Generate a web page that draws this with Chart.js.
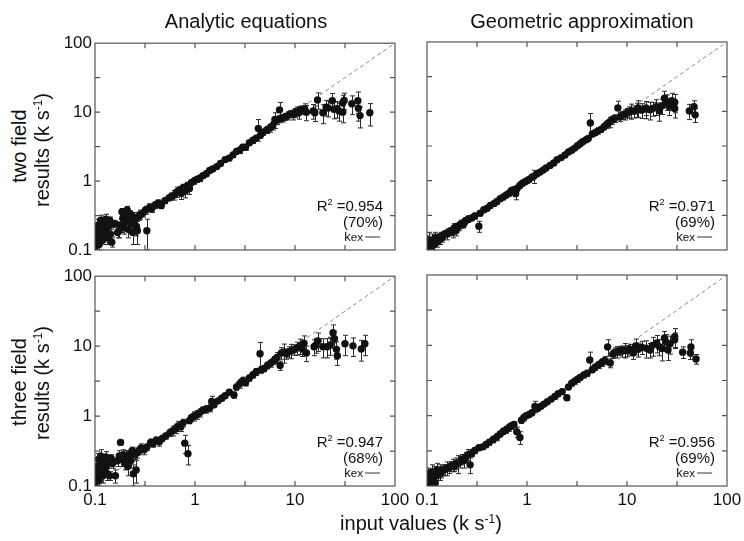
<!DOCTYPE html>
<html>
<head>
<meta charset="utf-8">
<script src="https://cdn.jsdelivr.net/npm/chart.js@4.4.1/dist/chart.umd.min.js"></script>
<style>
  body { margin: 0; background: #fff; width: 744px; height: 541px; position: relative; overflow: hidden;
         font-family: "Liberation Sans", Arial, sans-serif; color: #111; }
  .t { position: absolute; white-space: nowrap; line-height: 1; }
  .c { transform: translate(-50%, -50%); }
  .rot { transform: translate(-50%, -50%) rotate(-90deg); }
  .r { transform: translate(-100%, -50%); text-align: right; }
  sup { font-size: 0.6em; vertical-align: 0.6em; line-height: 0; }
  .kl { display: inline-block; width: 15px; border-top: 1px solid #333; vertical-align: middle; margin-left: 2px; }
</style>
</head>
<body>
<script>
// ---------- DATA ----------
const tickVals = [0.1, 1, 10, 100];
const tickLabels = ['0.1', '1', '10', '100'];
const tickMarks = [0.316, 1, 3.16, 10, 31.6];   // inward minor ticks
const diagonal = [[0.1, 0.1], [100, 100]];       // identity line

const columnTitles = ['Analytic equations', 'Geometric approximation'];
const rowTitles = ['two field', 'three field'];
const fitR2 = ['0.954', '0.971', '0.947', '0.956'];
const fitPct = ['70%', '69%', '68%', '69%'];

// [input, result, error]
const analyticTwo = [
  [0.100,0.13,0.02],[0.100,0.11,0.01],[0.102,0.17,0.03],[0.104,0.20,0.04],[0.106,0.15,0.03],[0.108,0.23,0.05],
  [0.110,0.12,0.02],[0.112,0.19,0.04],[0.114,0.27,0.05],[0.116,0.16,0.03],[0.118,0.21,0.04],[0.120,0.14,0.02],
  [0.122,0.25,0.04],[0.125,0.18,0.03],[0.128,0.28,0.05],[0.130,0.20,0.04],[0.133,0.15,0.03],[0.136,0.22,0.04],
  [0.140,0.27,0.03],[0.143,0.17,0.03],[0.147,0.13,0.02],[0.150,0.24,0.03],[0.160,0.24,0.02],[0.168,0.18,0.03],
  [0.175,0.19,0.04],[0.180,0.23,0.05],[0.186,0.36,0.04],[0.190,0.29,0.06],[0.196,0.21,0.04],[0.200,0.32,0.05],
  [0.205,0.26,0.04],[0.210,0.38,0.05],[0.215,0.20,0.05],[0.220,0.29,0.04],[0.226,0.33,0.04],[0.232,0.24,0.06],
  [0.238,0.18,0.06],[0.245,0.30,0.05],[0.252,0.28,0.04],[0.260,0.22,0.06],[0.265,0.19,0.07],[0.275,0.31,0.04],
  [0.285,0.33,0.05],[0.30,0.34,0.04],[0.33,0.19,0.09],[0.32,0.38,0.05],[0.35,0.41,0.06],[0.37,0.40,0.05],
  [0.40,0.45,0.05],[0.43,0.48,0.05],[0.46,0.44,0.04],[0.50,0.52,0.05],[0.55,0.57,0.05],[0.58,0.60,0.07],
  [0.62,0.63,0.10],[0.66,0.70,0.12],[0.70,0.74,0.08],[0.73,0.66,0.12],[0.76,0.80,0.10],[0.80,0.72,0.15],
  [0.84,0.86,0.10],[0.88,0.78,0.14],[0.92,0.95,0.08],[0.98,1.00,0.10],[1.05,1.06,0.10],[1.12,1.10,0.12],
  [1.20,1.20,0.10],[1.30,1.28,0.12],[1.40,1.42,0.10],[1.50,1.50,0.10],[1.65,1.62,0.10],[1.80,1.80,0.10],
  [2.0,2.05,0.15],[2.2,2.15,0.15],[2.4,2.4,0.2],[2.6,2.7,0.25],[2.8,2.8,0.3],[3.0,3.1,0.3],[3.2,3.1,0.3],
  [3.5,3.6,0.3],[3.8,3.9,0.4],[4.1,4.2,0.4],[4.3,5.8,2.0],[4.5,4.6,0.4],[4.8,5.1,0.5],[5.2,5.5,0.6],
  [5.6,5.9,0.8],[6.0,6.4,0.9],[6.3,7.8,2.0],[6.6,7.6,1.0],[7.0,8.0,1.0],[7.0,10.8,3.0],[7.5,8.2,1.0],
  [8.0,8.6,1.0],[8.5,8.9,1.2],[9.0,9.4,1.0],[9.5,9.2,1.5],[10.0,9.8,1.5],[10.5,10.3,1.6],[11.0,9.9,2],
  [11.5,10.8,1.5],[12.5,11.2,2],[13,10.0,2.5],[15.8,9.8,2.5],[16.8,15.0,4],[15.2,10.4,2.5],[19,9.8,3],
  [20.5,11.8,3],[21.4,11.5,3],[23.6,14.6,4],[24.5,11.0,3],[26.3,11.2,3],[27.5,10.4,3],[30,13.6,4],
  [30,10.0,3],[31,14.8,4],[37,13.2,4],[42.5,14.6,5],[43,11.4,4],[44.7,8.9,3],[56,9.8,3.5]
];

const geometricTwo = [
  [0.100,0.13,0.03],[0.101,0.10,0.01],[0.103,0.11,0.02],[0.105,0.14,0.04],[0.107,0.10,0.01],[0.109,0.12,0.02],
  [0.111,0.11,0.02],[0.113,0.14,0.03],[0.115,0.13,0.02],[0.118,0.12,0.02],[0.121,0.15,0.03],[0.124,0.14,0.02],
  [0.127,0.13,0.02],[0.130,0.15,0.02],[0.134,0.14,0.02],[0.138,0.16,0.02],[0.142,0.15,0.02],[0.150,0.17,0.02],
  [0.160,0.17,0.03],[0.166,0.18,0.02],[0.172,0.19,0.02],[0.180,0.18,0.03],[0.188,0.21,0.03],[0.195,0.19,0.03],
  [0.200,0.22,0.02],[0.210,0.22,0.03],[0.220,0.24,0.03],[0.230,0.23,0.02],[0.240,0.26,0.03],[0.250,0.27,0.02],
  [0.26,0.28,0.03],[0.28,0.29,0.02],[0.30,0.31,0.03],[0.33,0.22,0.04],[0.34,0.34,0.03],[0.37,0.38,0.03],
  [0.40,0.40,0.03],[0.43,0.44,0.04],[0.47,0.47,0.03],[0.50,0.50,0.04],[0.54,0.55,0.04],[0.58,0.58,0.05],
  [0.62,0.62,0.05],[0.66,0.66,0.06],[0.70,0.72,0.08],[0.74,0.74,0.06],[0.77,0.65,0.12],[0.80,0.78,0.07],
  [0.85,0.86,0.08],[0.90,0.92,0.08],[0.95,0.96,0.06],[1.0,1.0,0.07],[1.05,1.04,0.06],[1.12,1.12,0.08],
  [1.17,1.16,0.25],[1.25,1.25,0.08],[1.35,1.33,0.08],[1.45,1.42,0.1],[1.55,1.52,0.1],[1.7,1.66,0.1],
  [1.85,1.8,0.12],[2.0,2.0,0.12],[2.2,2.15,0.15],[2.4,2.35,0.15],[2.6,2.6,0.18],[2.8,2.75,0.18],
  [3.0,2.95,0.2],[3.2,3.2,0.2],[3.4,3.4,0.25],[3.6,3.65,0.25],[3.9,3.9,0.3],[4.1,4.05,0.3],[4.3,6.8,2.5],
  [4.5,4.7,0.4],[4.8,4.9,0.4],[5.1,5.2,0.5],[5.5,5.5,0.5],[5.9,6.0,0.6],[6.3,6.5,0.8],[6.7,7.0,1.2],
  [7.1,7.5,1.0],[7.5,7.9,1.0],[8.1,11.2,2.8],[8.5,8.3,1.2],[9.0,8.8,1.2],[9.5,9.0,1.5],[10,9.5,1.5],
  [10.5,9.8,1.8],[11,10.2,2.5],[11.8,10.0,2],[12.5,10.6,2.5],[13,11.2,3],[14,10.4,2.5],[15.5,10.8,3],
  [15.5,11.2,2.5],[17,10.5,3],[18,11.0,2.5],[19.6,11.7,3],[21,10.2,3],[22.5,12.0,3],[23.7,15.5,4],
  [25,13.8,3.5],[26.3,11.7,3],[28,14.2,4],[30,13.5,4],[30,11.0,3],[42,10.1,2.5],[46.8,11.7,2.5],[48,8.9,2]
];

const analyticThree = [
  [0.100,0.16,0.04],[0.100,0.11,0.01],[0.102,0.13,0.03],[0.104,0.19,0.05],[0.106,0.15,0.04],[0.108,0.24,0.05],
  [0.110,0.12,0.02],[0.112,0.18,0.04],[0.114,0.27,0.06],[0.116,0.16,0.03],[0.118,0.21,0.04],[0.120,0.14,0.03],
  [0.122,0.23,0.04],[0.125,0.17,0.03],[0.128,0.26,0.05],[0.130,0.19,0.04],[0.133,0.15,0.03],[0.137,0.22,0.04],
  [0.140,0.14,0.02],[0.145,0.25,0.03],[0.150,0.21,0.03],[0.160,0.14,0.03],[0.168,0.23,0.04],[0.175,0.27,0.05],
  [0.180,0.42,0.03],[0.186,0.24,0.05],[0.192,0.28,0.05],[0.198,0.21,0.04],[0.205,0.26,0.06],[0.212,0.19,0.05],
  [0.220,0.28,0.04],[0.228,0.23,0.05],[0.235,0.32,0.04],[0.242,0.15,0.05],[0.250,0.28,0.04],[0.258,0.17,0.06],
  [0.265,0.30,0.05],[0.275,0.32,0.04],[0.29,0.35,0.05],[0.31,0.33,0.05],[0.33,0.36,0.04],[0.36,0.42,0.05],
  [0.38,0.40,0.04],[0.41,0.45,0.05],[0.44,0.43,0.06],[0.47,0.48,0.05],[0.51,0.52,0.05],[0.56,0.58,0.07],
  [0.60,0.62,0.1],[0.64,0.66,0.1],[0.68,0.72,0.12],[0.72,0.70,0.1],[0.76,0.80,0.1],[0.79,0.41,0.12],
  [0.85,0.29,0.09],[0.88,0.86,0.08],[0.92,0.95,0.1],[0.98,1.0,0.15],[1.05,1.05,0.15],[1.12,1.12,0.15],
  [1.2,1.22,0.12],[1.3,1.25,0.15],[1.47,1.62,0.3],[1.4,1.3,0.15],[1.55,1.45,0.1],[1.7,1.65,0.1],
  [1.85,1.8,0.15],[2.0,1.95,0.15],[2.2,2.2,0.2],[2.45,2.0,0.2],[2.6,2.6,0.25],[2.8,2.9,0.4],[3.0,3.2,0.4],
  [3.2,3.0,0.3],[3.5,3.5,0.35],[3.8,3.9,0.4],[4.1,4.3,0.5],[4.47,7.8,3.5],[4.6,4.6,0.5],[4.9,4.8,0.5],
  [5.3,5.3,0.6],[5.7,5.7,0.7],[6.2,6.3,0.8],[6.6,6.9,1.2],[7.1,5.3,0.8],[7.3,8.0,1.5],[7.7,8.2,2.5],
  [8.2,7.8,1.3],[8.7,8.3,1.5],[9.2,8.6,2],[9.8,8.9,1.5],[10.4,9.4,2],[11.2,10.1,2.5],[11.8,9.1,2],
  [12.3,11.0,3],[13,8.0,2],[15.5,9.8,2.5],[17,11.9,3.5],[16.2,10.4,2.5],[19,9.8,3],[21,9.8,3],
  [22.5,10.4,3],[24,15.6,4.5],[24.8,12.8,3.5],[26,9.0,2.5],[26.5,7.3,2],[31.6,10.8,3.5],[38,10.1,3],
  [46,9.1,3],[50,10.8,3.5]
];

const geometricThree = [
  [0.100,0.13,0.02],[0.101,0.11,0.01],[0.103,0.15,0.03],[0.105,0.12,0.02],[0.107,0.10,0.01],[0.109,0.14,0.03],
  [0.111,0.12,0.02],[0.113,0.16,0.04],[0.115,0.13,0.02],[0.118,0.15,0.04],[0.121,0.11,0.02],[0.124,0.14,0.03],
  [0.127,0.17,0.04],[0.130,0.15,0.03],[0.134,0.16,0.04],[0.138,0.15,0.02],[0.143,0.17,0.03],[0.150,0.17,0.03],
  [0.158,0.18,0.04],[0.165,0.18,0.03],[0.172,0.19,0.03],[0.180,0.20,0.04],[0.188,0.19,0.03],[0.196,0.21,0.04],
  [0.205,0.21,0.06],[0.215,0.22,0.04],[0.225,0.24,0.04],[0.235,0.23,0.05],[0.245,0.26,0.04],[0.26,0.28,0.05],
  [0.27,0.20,0.05],[0.28,0.29,0.03],[0.30,0.32,0.03],[0.33,0.35,0.03],[0.36,0.36,0.03],[0.39,0.39,0.04],
  [0.42,0.42,0.04],[0.46,0.46,0.05],[0.50,0.50,0.06],[0.54,0.55,0.05],[0.58,0.60,0.06],[0.62,0.63,0.07],
  [0.66,0.68,0.08],[0.70,0.72,0.08],[0.74,0.75,0.07],[0.79,0.59,0.1],[0.85,0.49,0.1],[0.88,0.86,0.08],
  [0.93,0.94,0.1],[0.98,1.0,0.08],[1.05,1.04,0.08],[1.12,1.1,0.1],[1.2,1.35,0.25],[1.28,1.26,0.08],
  [1.38,1.36,0.1],[1.48,1.46,0.1],[1.6,1.58,0.12],[1.75,1.72,0.12],[1.9,1.88,0.15],[2.05,2.05,0.15],
  [2.25,2.2,0.2],[2.5,1.8,0.15],[2.6,2.55,0.2],[2.8,2.9,0.25],[3.0,3.1,0.3],[3.2,3.3,0.3],[3.4,3.5,0.3],
  [3.7,3.8,0.35],[4.0,4.0,0.4],[4.24,6.2,1.8],[4.5,4.5,0.4],[4.8,4.9,0.5],[5.2,5.3,0.6],[5.6,5.7,0.7],
  [6.0,6.1,0.8],[6.4,9.5,2.5],[6.8,5.6,0.8],[7.2,7.5,1],[7.6,8.0,1.2],[8.0,8.1,1.5],[8.5,8.4,1.2],
  [9.0,8.3,1.5],[9.5,8.6,2],[10,8.4,1.5],[10.6,8.8,1.5],[11.5,7.8,1.5],[12.2,9.8,2.5],[13,8.8,2],
  [14,9.4,2],[15.6,9.1,2.5],[17,8.6,2],[18,10.0,3],[19.8,10.8,3],[21,9.6,2.5],[22.3,9.0,3],[23.7,12.7,3],
  [24.5,11.2,3],[25.7,8.6,2.5],[27,10.5,3],[30,13.3,4],[30,12.0,3],[36,8.0,1.5],[43.6,9.5,2.5],
  [43,7.8,1.5],[49,6.4,1]
];

// ---------- LAYOUT ----------
const FONT = '"Liberation Sans", Arial, sans-serif';
const panels = [
  { data: analyticTwo,    area: [95, 42, 395, 250],  showX: false, showY: true  },
  { data: geometricTwo,   area: [427, 42, 727, 250], showX: false, showY: false },
  { data: analyticThree,  area: [95, 275, 395, 486], showX: true,  showY: true  },
  { data: geometricThree, area: [427, 275, 727, 486], showX: true,  showY: false }
];

// error bars, drawn under the points
const errorBars = {
  id: 'errorBars',
  beforeDatasetsDraw(chart) {
    const { ctx, chartArea: a, scales: { x, y } } = chart;
    const ds = chart.data.datasets[0];
    ctx.save();
    ctx.beginPath();
    ctx.rect(a.left, a.top, a.right - a.left, a.bottom - a.top);
    ctx.clip();
    ctx.strokeStyle = '#2a2a2a';
    ctx.lineWidth = 1;
    ds.data.forEach((pt, i) => {
      const e = ds.errs[i];
      const px = Math.round(x.getPixelForValue(pt.x)) + 0.5;
      const top = y.getPixelForValue(pt.y + e);
      const bot = y.getPixelForValue(Math.max(pt.y - e, 0.01));
      ctx.beginPath();
      ctx.moveTo(px, top); ctx.lineTo(px, bot);
      ctx.moveTo(px - 2.5, top); ctx.lineTo(px + 2.5, top);
      ctx.moveTo(px - 2.5, bot); ctx.lineTo(px + 2.5, bot);
      ctx.stroke();
    });
    ctx.restore();
  }
};

// box frame with inward ticks on all four sides
const frame = {
  id: 'frame',
  afterDraw(chart) {
    const { ctx, chartArea: a, scales: { x, y } } = chart;
    ctx.save();
    ctx.strokeStyle = '#555';
    ctx.lineWidth = 1.2;
    ctx.strokeRect(a.left, a.top, a.right - a.left, a.bottom - a.top);
    ctx.beginPath();
    tickMarks.forEach(v => {
      const px = x.getPixelForValue(v);
      ctx.moveTo(px, a.bottom); ctx.lineTo(px, a.bottom - 5);
      ctx.moveTo(px, a.top); ctx.lineTo(px, a.top + 5);
      const py = y.getPixelForValue(v);
      ctx.moveTo(a.left, py); ctx.lineTo(a.left + 5, py);
      ctx.moveTo(a.right, py); ctx.lineTo(a.right - 5, py);
    });
    ctx.stroke();
    ctx.restore();
  }
};

function logAxis(show, isX) {
  return {
    type: 'logarithmic', min: 0.1, max: 100,
    grid: { display: false, drawTicks: false },
    border: { display: false },
    afterBuildTicks: s => { s.ticks = tickVals.map(v => ({ value: v })); },
    afterFit: s => { if (isX) s.height = 28; else s.width = 50; },
    ticks: {
      display: show, padding: isX ? 4 : 3, color: '#111', autoSkip: false, maxRotation: 0,
      font: { family: FONT, size: 17 },
      callback: (v, i) => tickLabels[i]
    }
  };
}

function makePanel(p) {
  const [l, t, r, b] = p.area;
  const cv = document.createElement('canvas');
  cv.width = 50 + (r - l) + 20;
  cv.height = 12 + (b - t) + 28;
  cv.style.cssText = `position:absolute;left:${l - 50}px;top:${t - 12}px`;
  document.body.appendChild(cv);
  new Chart(cv, {
    type: 'scatter',
    data: {
      datasets: [
        {
          data: p.data.map(d => ({ x: d[0], y: d[1] })),
          errs: p.data.map(d => d[2]),
          pointRadius: 3.7, backgroundColor: '#111', borderWidth: 0, order: 0
        },
        {
          data: diagonal.map(d => ({ x: d[0], y: d[1] })),
          showLine: true, borderColor: '#8a8a8a', borderWidth: 1, borderDash: [4, 3],
          pointRadius: 0, order: 1
        }
      ]
    },
    options: {
      responsive: false, animation: false, events: [],
      layout: { padding: { left: 0, top: 12, right: 20, bottom: 0 } },
      plugins: { legend: { display: false }, tooltip: { enabled: false } },
      scales: { x: logAxis(p.showX, true), y: logAxis(p.showY, false) }
    },
    plugins: [errorBars, frame]
  });
}

panels.forEach(makePanel);

// ---------- TEXT ----------
function addText(html, x, y, cls, size) {
  const d = document.createElement('div');
  d.className = 't ' + cls;
  d.style.left = x + 'px';
  d.style.top = y + 'px';
  d.style.fontSize = size + 'px';
  d.innerHTML = html;
  document.body.appendChild(d);
}

addText(columnTitles[0], 246, 21, 'c', 20);
addText(columnTitles[1], 582, 21, 'c', 20);
addText(rowTitles[0], 19, 146, 'rot', 20);
addText('results (k s<sup>-1</sup>)', 42, 150, 'rot', 20);
addText(rowTitles[1], 19, 382, 'rot', 20);
addText('results (k s<sup>-1</sup>)', 42, 383, 'rot', 20);
addText('input values (k s<sup>-1</sup>)', 421, 523, 'c', 20);

panels.forEach((p, i) => {
  const r = p.area[2] - 12, b = p.area[3];
  addText('R<sup>2</sup> =' + fitR2[i], r, b - 45, 'r', 15);
  addText('(' + fitPct[i] + ')', r, b - 29, 'r', 15);
  addText('k<span style="font-size:0.9em">ex</span><span class="kl"></span>', r - 3, b - 14, 'r', 13);
});
</script>
</body>
</html>
